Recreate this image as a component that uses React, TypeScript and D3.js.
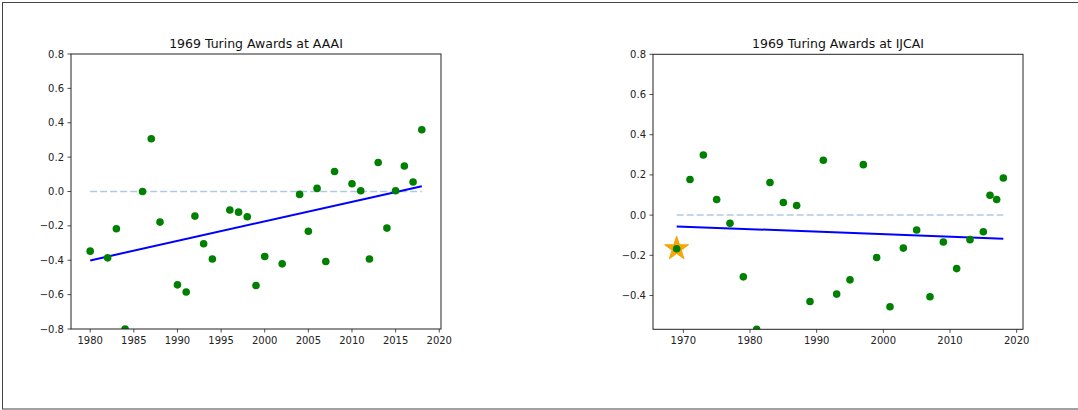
import React from "react";
import * as d3 from "d3";

// ---- data ----
const aaaiYears = [1980, 1982, 1983, 1984, 1986, 1987, 1988, 1990, 1991, 1992, 1993, 1994, 1996, 1997, 1998, 1999, 2000, 2002, 2004, 2005, 2006, 2007, 2008, 2010, 2011, 2012, 2013, 2014, 2015, 2016, 2017, 2018];
const aaaiValues = [-0.347, -0.386, -0.217, -0.8, 0.0, 0.307, -0.178, -0.543, -0.585, -0.143, -0.304, -0.393, -0.108, -0.12, -0.147, -0.547, -0.378, -0.421, -0.017, -0.231, 0.018, -0.407, 0.116, 0.045, 0.004, -0.393, 0.169, -0.213, 0.004, 0.148, 0.055, 0.359];
const aaaiTrendYears = [1980, 2018];
const aaaiTrendValues = [-0.401, 0.031];

const ijcaiYears = [1969, 1971, 1973, 1975, 1977, 1979, 1981, 1983, 1985, 1987, 1989, 1991, 1993, 1995, 1997, 1999, 2001, 2003, 2005, 2007, 2009, 2011, 2013, 2015, 2016, 2017, 2018];
const ijcaiValues = [-0.167, 0.177, 0.299, 0.078, -0.041, -0.307, -0.568, 0.162, 0.063, 0.048, -0.43, 0.273, -0.393, -0.322, 0.251, -0.211, -0.456, -0.164, -0.074, -0.406, -0.134, -0.266, -0.122, -0.083, 0.099, 0.078, 0.185];
const ijcaiTrendYears = [1969, 2018];
const ijcaiTrendValues = [-0.056, -0.117];
const ijcaiStarYear = [1969];
const ijcaiStarValue = [-0.167];

const titles = ["1969 Turing Awards at AAAI", "1969 Turing Awards at IJCAI"];
const aaaiYTicks = [0.8, 0.6, 0.4, 0.2, 0.0, -0.2, -0.4, -0.6, -0.8];
const ijcaiYTicks = [0.8, 0.6, 0.4, 0.2, 0.0, -0.2, -0.4];
const aaaiXTicks = [1980, 1985, 1990, 1995, 2000, 2005, 2010, 2015, 2020];
const ijcaiXTicks = [1970, 1980, 1990, 2000, 2010, 2020];

const FONT = "DejaVu Sans, sans-serif";

type PanelProps = {
  id: string;
  title: string;
  left: number;
  top: number;
  width: number;
  height: number;
  xDomain: [number, number];
  yDomain: [number, number];
  xTicks: number[];
  yTicks: number[];
  years: number[];
  values: number[];
  trendYears: number[];
  trendValues: number[];
  starYears?: number[];
  starValues?: number[];
};

const fmtY = (v: number) => {
  const s = Math.abs(v).toFixed(1);
  return v < -1e-9 ? "\u2212" + s : s;
};

function Panel(p: PanelProps) {
  const x = d3.scaleLinear().domain(p.xDomain).range([p.left, p.left + p.width]);
  const y = d3.scaleLinear().domain(p.yDomain).range([p.top + p.height, p.top]);
  const line = d3
    .line<number>()
    .x((_, i) => x(p.trendYears[i]))
    .y((v) => y(v));
  const zeroLine = d3
    .line<number>()
    .x((v) => x(v))
    .y(() => y(0));
  const star = d3.symbol().type(d3.symbolStar).size(175)();
  const tl = 3.5;
  const bottom = p.top + p.height;
  return (
    <g>
      <defs>
        <clipPath id={p.id}>
          <rect x={p.left} y={p.top} width={p.width} height={p.height} />
        </clipPath>
      </defs>
      <g clipPath={`url(#${p.id})`}>
        <path
          d={zeroLine([p.trendYears[0], p.trendYears[p.trendYears.length - 1]]) || ""}
          stroke="#b0c9e3"
          strokeWidth={1.5}
          strokeDasharray="7,3"
          fill="none"
        />
        <path d={line(p.trendValues) || ""} stroke="#0000ff" strokeWidth={2} fill="none" />
        {(p.starYears || []).map((yr, i) => (
          <path
            key={"s" + i}
            d={star || ""}
            transform={`translate(${x(yr)},${y(p.starValues![i])})`}
            fill="#ffa500"
            stroke="#f5a000"
            strokeWidth={1}
          />
        ))}
        {p.years.map((yr, i) => (
          <circle key={i} cx={x(yr)} cy={y(p.values[i])} r={3.8} fill="#008000" />
        ))}
      </g>
      <rect
        x={p.left}
        y={p.top}
        width={p.width}
        height={p.height}
        fill="none"
        stroke="#222"
        strokeWidth={1}
      />
      {p.yTicks.map((t) => (
        <g key={"y" + t}>
          <line x1={p.left - tl} x2={p.left} y1={y(t)} y2={y(t)} stroke="#222" strokeWidth={0.8} />
          <text
            x={p.left - tl - 3.5}
            y={y(t)}
            dy="0.35em"
            textAnchor="end"
            fontFamily={FONT}
            fontSize={10}
            fill="#222"
          >
            {fmtY(t)}
          </text>
        </g>
      ))}
      {p.xTicks.map((t) => (
        <g key={"x" + t}>
          <line x1={x(t)} x2={x(t)} y1={bottom} y2={bottom + tl} stroke="#222" strokeWidth={0.8} />
          <text
            x={x(t)}
            y={bottom + tl + 3.5}
            dy="0.76em"
            textAnchor="middle"
            fontFamily={FONT}
            fontSize={10}
            fill="#222"
          >
            {t}
          </text>
        </g>
      ))}
      <text
        x={p.left + p.width / 2}
        y={p.top - 6}
        textAnchor="middle"
        fontFamily={FONT}
        fontSize={12.5}
        fill="#111"
      >
        {p.title}
      </text>
    </g>
  );
}

export default function App() {
  return (
    <svg
      width={1078}
      height={410}
      style={{ position: "absolute", left: 0, top: 0, background: "#fff" }}
    >
      <rect x={0} y={0} width={1078} height={410} fill="#fff" />
      <rect x={2.5} y={2.5} width={1080} height={406.5} fill="none" stroke="#444" strokeWidth={1} />
      <Panel
        id="clipA"
        title={titles[0]}
        left={71}
        top={54}
        width={370}
        height={275}
        xDomain={[1977.8, 2020.2]}
        yDomain={[-0.8, 0.8]}
        xTicks={aaaiXTicks}
        yTicks={aaaiYTicks}
        years={aaaiYears}
        values={aaaiValues}
        trendYears={aaaiTrendYears}
        trendValues={aaaiTrendValues}
      />
      <Panel
        id="clipB"
        title={titles[1]}
        left={653}
        top={54.3}
        width={370}
        height={275}
        xDomain={[1965.45, 2020.95]}
        yDomain={[-0.568, 0.8]}
        xTicks={ijcaiXTicks}
        yTicks={ijcaiYTicks}
        years={ijcaiYears}
        values={ijcaiValues}
        trendYears={ijcaiTrendYears}
        trendValues={ijcaiTrendValues}
        starYears={ijcaiStarYear}
        starValues={ijcaiStarValue}
      />
    </svg>
  );
}
